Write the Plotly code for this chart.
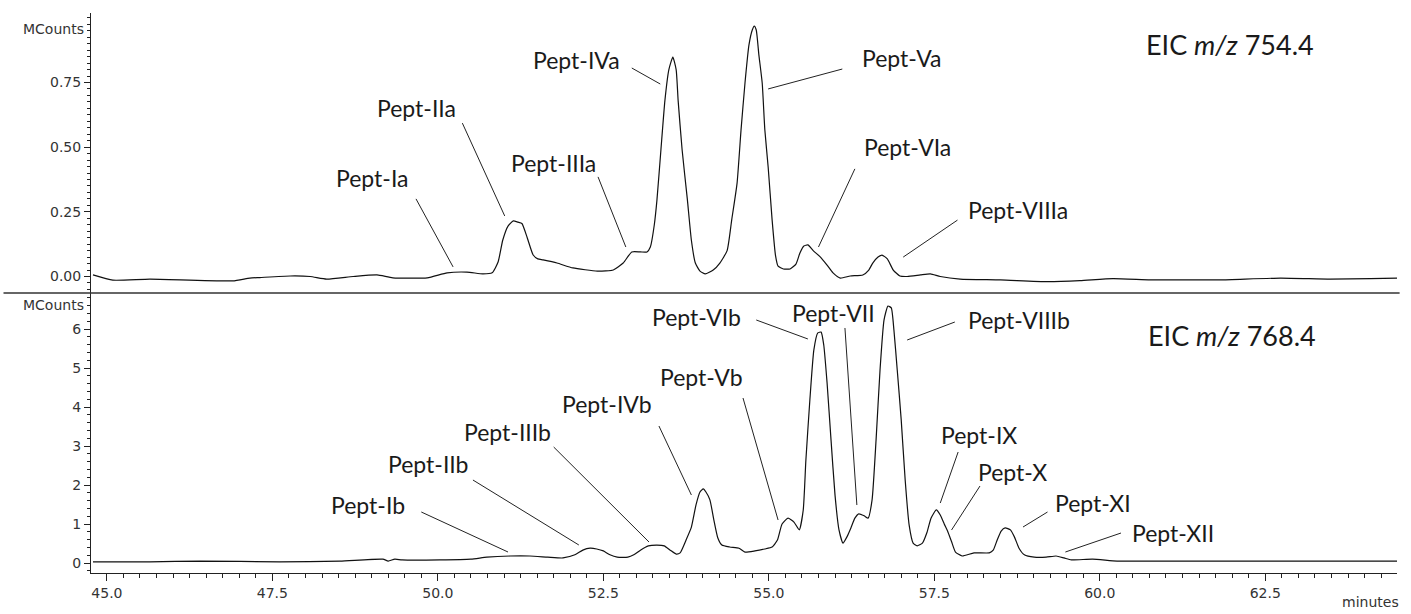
import plotly.graph_objects as go

# ---------------- data ----------------
# EIC m/z 754.4 (top panel): retention time (min) and intensity (MCounts)
time_a = [44.79, 45.09, 45.65, 46.90, 47.16, 47.31, 47.77, 48.07, 48.32, 48.72,
          49.08, 49.32, 49.84, 50.14, 50.44, 50.68, 50.82, 50.91, 50.98, 51.06,
          51.14, 51.21, 51.27, 51.35, 51.44, 51.51, 51.59, 51.80, 52.04, 52.41,
          52.65, 52.80, 52.93, 53.06, 53.16, 53.21, 53.27, 53.31, 53.37, 53.43,
          53.49, 53.55, 53.60, 53.63, 53.69, 53.77, 53.83, 53.89, 53.96, 54.04,
          54.16, 54.26, 54.37, 54.44, 54.52, 54.58, 54.64, 54.70, 54.75, 54.78,
          54.81, 54.85, 54.90, 54.94, 54.99, 55.05, 55.10, 55.14, 55.22, 55.32,
          55.41, 55.47, 55.53, 55.59, 55.67, 55.78, 55.88, 55.97, 56.08, 56.23,
          56.42, 56.51, 56.57, 56.65, 56.71, 56.79, 56.88, 56.98, 57.09, 57.29,
          57.44, 57.59, 57.89, 58.50, 59.21, 59.70, 60.20, 60.76, 61.22, 61.82,
          62.73, 63.48, 64.09, 64.49]
int_a = [0.006, -0.014, -0.010, -0.017, -0.006, -0.004, 0.002, 0.000, -0.010, 0.000,
         0.006, -0.005, -0.005, 0.014, 0.017, 0.010, 0.014, 0.056, 0.140, 0.195,
         0.215, 0.210, 0.205, 0.150, 0.083, 0.068, 0.064, 0.052, 0.033, 0.021,
         0.025, 0.052, 0.095, 0.095, 0.095, 0.114, 0.200, 0.296, 0.490, 0.680,
         0.800, 0.848, 0.800, 0.680, 0.490, 0.296, 0.140, 0.052, 0.021, 0.010,
         0.025, 0.052, 0.100, 0.220, 0.360, 0.566, 0.748, 0.895, 0.953, 0.968,
         0.953, 0.856, 0.748, 0.566, 0.423, 0.218, 0.083, 0.040, 0.029, 0.029,
         0.048, 0.091, 0.118, 0.122, 0.100, 0.075, 0.044, 0.014, -0.006, 0.002,
         0.006, 0.025, 0.052, 0.075, 0.083, 0.068, 0.025, 0.002, 0.000, 0.006,
         0.010, 0.000, -0.010, -0.013, -0.020, -0.016, -0.008, -0.013, -0.013, -0.013,
         -0.006, -0.010, -0.008, -0.006]

# EIC m/z 768.4 (bottom panel)
time_b = [44.79, 45.65, 46.41, 47.61, 48.52, 49.17, 49.25, 49.35, 49.46, 50.03,
          50.50, 50.74, 51.09, 51.39, 51.66, 51.89, 52.07, 52.19, 52.30, 52.40,
          52.50, 52.60, 52.71, 52.87, 52.96, 53.06, 53.18, 53.31, 53.42, 53.51,
          53.60, 53.66, 53.75, 53.83, 53.90, 53.96, 54.01, 54.05, 54.11, 54.17,
          54.23, 54.29, 54.41, 54.55, 54.64, 54.79, 54.94, 55.05, 55.13, 55.20,
          55.29, 55.38, 55.46, 55.52, 55.56, 55.62, 55.68, 55.74, 55.79, 55.83,
          55.88, 55.94, 56.00, 56.06, 56.12, 56.18, 56.24, 56.30, 56.36, 56.44,
          56.50, 56.56, 56.62, 56.68, 56.74, 56.80, 56.85, 56.89, 56.94, 57.00,
          57.06, 57.12, 57.18, 57.24, 57.32, 57.39, 57.45, 57.53, 57.59, 57.65,
          57.70, 57.76, 57.82, 57.92, 58.10, 58.33, 58.39, 58.45, 58.51, 58.57,
          58.65, 58.71, 58.78, 58.86, 59.01, 59.19, 59.34, 59.46, 59.57, 59.89,
          60.26, 60.91, 61.52, 62.58, 63.33, 63.94, 64.49]
int_b = [0.03, 0.03, 0.05, 0.03, 0.05, 0.10, 0.05, 0.10, 0.08, 0.08,
         0.10, 0.15, 0.18, 0.18, 0.15, 0.13, 0.21, 0.33, 0.38, 0.36,
         0.31, 0.21, 0.15, 0.15, 0.21, 0.33, 0.44, 0.46, 0.44, 0.33,
         0.23, 0.26, 0.59, 0.92, 1.49, 1.82, 1.90, 1.82, 1.62, 1.10,
         0.64, 0.46, 0.41, 0.38, 0.28, 0.31, 0.36, 0.41, 0.59, 1.00,
         1.15, 1.05, 0.85, 1.36, 2.64, 4.18, 5.46, 5.90, 5.92, 5.59,
         4.62, 3.15, 1.74, 0.85, 0.51, 0.67, 0.90, 1.15, 1.26, 1.21,
         1.15, 1.62, 3.15, 4.95, 6.23, 6.59, 6.54, 5.97, 4.95, 3.67,
         2.13, 0.97, 0.51, 0.44, 0.51, 0.79, 1.15, 1.36, 1.23, 1.00,
         0.82, 0.55, 0.28, 0.18, 0.26, 0.26, 0.33, 0.59, 0.82, 0.90,
         0.85, 0.67, 0.38, 0.21, 0.15, 0.15, 0.18, 0.13, 0.08, 0.10,
         0.05, 0.05, 0.05, 0.05, 0.05, 0.05, 0.05]

x_tick_vals = [45.0, 47.5, 50.0, 52.5, 55.0, 57.5, 60.0, 62.5]
x_tick_text = ["45.0", "47.5", "50.0", "52.5", "55.0", "57.5", "60.0", "62.5"]
y_top_ticks = [0.0, 0.25, 0.50, 0.75]
y_bot_ticks = [0, 1, 2, 3, 4, 5, 6]

# peak labels: text, label position (t, v), leader line start (t, v) and end (t, v)
labels_a = [
    ("Pept-Ia",    49.00, 0.381, 49.67, 0.300, 50.23, 0.037),
    ("Pept-IIa",   49.67, 0.651, 50.37, 0.593, 51.01, 0.234),
    ("Pept-IIIa",  51.75, 0.439, 52.42, 0.385, 52.84, 0.114),
    ("Pept-IVa",   52.10, 0.837, 52.93, 0.806, 53.36, 0.744),
    ("Pept-Va",    57.00, 0.845, 56.11, 0.802, 54.99, 0.725),
    ("Pept-VIa",   57.09, 0.501, 56.30, 0.416, 55.75, 0.114),
    ("Pept-VIIIa", 58.77, 0.257, 57.85, 0.218, 57.03, 0.075),
]
labels_b = [
    ("Pept-Ib",    48.94, 1.487, 49.75, 1.308, 51.06, 0.282),
    ("Pept-IIb",   49.85, 2.538, 50.53, 2.128, 52.13, 0.462),
    ("Pept-IIIb",  51.05, 3.359, 51.75, 2.974, 53.19, 0.538),
    ("Pept-IVb",   52.55, 4.077, 53.34, 3.513, 53.83, 1.744),
    ("Pept-Vb",    53.98, 4.769, 54.61, 4.231, 55.14, 1.103),
    ("Pept-VIb",   53.91, 6.308, 54.81, 6.231, 55.59, 5.744),
    ("Pept-VII",   55.97, 6.410, 56.15, 6.026, 56.33, 1.487),
    ("Pept-VIIIb", 58.78, 6.231, 57.81, 6.179, 57.09, 5.718),
    ("Pept-IX",    58.17, 3.282, 57.86, 2.846, 57.59, 1.538),
    ("Pept-X",     58.68, 2.333, 58.19, 1.974, 57.76, 0.846),
    ("Pept-XI",    59.89, 1.538, 59.21, 1.308, 58.84, 0.923),
    ("Pept-XII",   61.11, 0.769, 60.32, 0.769, 59.48, 0.282),
]
title_a = ("EIC <i>m/z</i> 754.4", 61.97, 0.895)
title_b = ("EIC <i>m/z</i> 768.4", 62.00, 5.846)

# ---------------- figure ----------------
X_RANGE = [44.76, 64.49]
Y_TOP_RANGE = [-0.0638, 1.0186]
Y_BOT_RANGE = [-0.256, 6.923]

INK = "#111111"
AX = "#222222"
TICKFONT = dict(family="DejaVu Sans", size=14, color="#333333")
LABELFONT = dict(family="Lato", size=23, color="#1a1a1a")

fig = go.Figure()
fig.add_trace(go.Scatter(x=time_a, y=int_a, xaxis="x2", yaxis="y2", mode="lines",
                         line=dict(color=INK, width=1.2, shape="spline", smoothing=0.5),
                         showlegend=False, hoverinfo="skip"))
fig.add_trace(go.Scatter(x=time_b, y=int_b, xaxis="x", yaxis="y", mode="lines",
                         line=dict(color=INK, width=1.2, shape="spline", smoothing=0.5),
                         showlegend=False, hoverinfo="skip"))

annotations = []
shapes = []
for txt, tx, ty, x0, y0, x1, y1 in labels_a:
    annotations.append(dict(text=txt, x=tx, y=ty, xref="x2", yref="y2", showarrow=False,
                            font=LABELFONT, xanchor="center", yanchor="middle"))
    shapes.append(dict(type="line", xref="x2", yref="y2", x0=x0, y0=y0, x1=x1, y1=y1,
                       line=dict(color=AX, width=1)))
for txt, tx, ty, x0, y0, x1, y1 in labels_b:
    annotations.append(dict(text=txt, x=tx, y=ty, xref="x", yref="y", showarrow=False,
                            font=LABELFONT, xanchor="center", yanchor="middle"))
    shapes.append(dict(type="line", xref="x", yref="y", x0=x0, y0=y0, x1=x1, y1=y1,
                       line=dict(color=AX, width=1)))

annotations.append(dict(text=title_a[0], x=title_a[1], y=title_a[2], xref="x2", yref="y2",
                        showarrow=False, font=dict(family="Lato", size=27, color="#1a1a1a"),
                        xanchor="center", yanchor="middle"))
annotations.append(dict(text=title_b[0], x=title_b[1], y=title_b[2], xref="x", yref="y",
                        showarrow=False, font=dict(family="Lato", size=27, color="#1a1a1a"),
                        xanchor="center", yanchor="middle"))

# unit labels
annotations.append(dict(text="MCounts", xref="paper", yref="paper", x=-0.004, y=0.971,
                        xanchor="right", yanchor="middle", showarrow=False, font=TICKFONT))
annotations.append(dict(text="MCounts", xref="paper", yref="paper", x=-0.004, y=0.479,
                        xanchor="right", yanchor="middle", showarrow=False, font=TICKFONT))
annotations.append(dict(text="minutes", xref="paper", yref="paper", x=0.980, y=-0.052,
                        xanchor="center", yanchor="middle", showarrow=False, font=TICKFONT))

# divider between the two panels
shapes.append(dict(type="line", xref="paper", yref="paper", x0=-0.067, x1=1.002, y0=0.5, y1=0.5,
                   line=dict(color="#333333", width=1.5)))

common_y = dict(showgrid=False, zeroline=False, tickfont=TICKFONT, tickcolor=AX,
                tickwidth=1)

fig.update_layout(
    width=1411, height=614,
    margin=dict(l=91, r=14, t=13, b=41),
    paper_bgcolor="white", plot_bgcolor="white",
    showlegend=False,
    xaxis=dict(domain=[0, 1], range=X_RANGE, anchor="y", showline=True, linecolor=AX,
               linewidth=1, ticks="outside", ticklen=7, tickwidth=1, tickcolor=AX,
               tickmode="array", tickvals=x_tick_vals, ticktext=x_tick_text,
               minor=dict(dtick=0.25, tick0=45, ticks="outside", ticklen=4, tickcolor=AX),
               showgrid=False, zeroline=False, tickfont=TICKFONT),
    xaxis2=dict(domain=[0, 1], range=X_RANGE, anchor="y2", matches="x",
                showticklabels=False, showline=False, ticks="", showgrid=False, zeroline=False),
    yaxis=dict(domain=[0, 0.5], range=Y_BOT_RANGE, anchor="x", showline=True, linecolor=AX,
               linewidth=1, ticks="outside", ticklen=6,
               tickmode="array", tickvals=y_bot_ticks,
               minor=dict(dtick=0.2, tick0=0, ticks="outside", ticklen=3, tickcolor=AX),
               **common_y),
    yaxis2=dict(domain=[0.5, 1], range=Y_TOP_RANGE, anchor="x2", showline=True, linecolor=AX,
                linewidth=1, ticks="outside", ticklen=6,
                tickmode="array", tickvals=y_top_ticks, tickformat=".2f",
                minor=dict(dtick=0.025, tick0=0, ticks="outside", ticklen=3, tickcolor=AX),
                **common_y),
    yaxis3=dict(overlaying="y2", side="right", anchor="x2", range=Y_TOP_RANGE,
                showticklabels=False, showline=False, ticks="inside", ticklen=6,
                tickmode="array", tickvals=y_top_ticks,
                minor=dict(dtick=0.025, tick0=0, ticks="inside", ticklen=3, tickcolor=AX),
                **common_y),
    yaxis4=dict(overlaying="y", side="right", anchor="x", range=Y_BOT_RANGE,
                showticklabels=False, showline=False, ticks="inside", ticklen=6,
                tickmode="array", tickvals=y_bot_ticks,
                minor=dict(dtick=1/3, tick0=0, ticks="inside", ticklen=3, tickcolor=AX),
                **common_y),
    annotations=annotations,
    shapes=shapes,
)

fig.write_html("out.html")
